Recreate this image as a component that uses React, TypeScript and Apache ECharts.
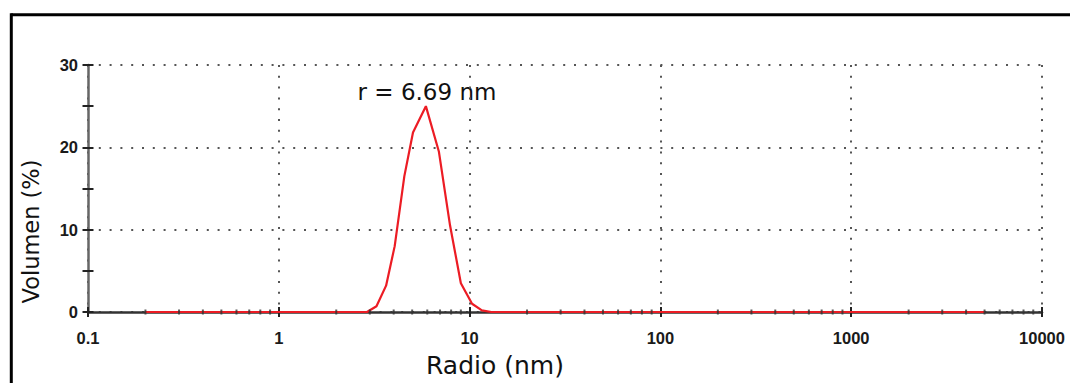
import React, { useEffect, useRef } from "react";
import * as echarts from "echarts";

// Radius (nm) of each point of the distribution curve and the volume (%) at it
const radius = [0.2, 2.9, 3.25, 3.65, 4.05, 4.55, 5.05, 5.9, 6.9, 7.9, 9.0, 10.3, 11.6, 13, 5000];
const volume = [0, 0, 0.7, 3.2, 8.0, 16.5, 21.8, 25, 19.5, 10.5, 3.5, 1.0, 0.2, 0, 0];

// tick labels
const xTickLabels = ["0.1", "1", "10", "100", "1000", "10000"];
const yTickLabels = ["0", "10", "20", "30"];

// minor tick positions of the logarithmic radius axis
const xMinorTicks = [
  0.2, 0.3, 0.4, 0.5, 0.6, 0.7, 0.8, 0.9,
  2, 3, 4, 5, 6, 7, 8, 9,
  20, 30, 40, 50, 60, 70, 80, 90,
  200, 300, 400, 500, 600, 700, 800, 900,
  2000, 3000, 4000, 5000, 6000, 7000, 8000, 9000,
];

const peakLabel = "r = 6.69 nm";
const xTitle = "Radio (nm)";
const yTitle = "Volumen (%)";

export default function App() {
  const ref = useRef<HTMLDivElement>(null);
  useEffect(() => {
    if (!ref.current) return;
    const chart = echarts.init(ref.current, undefined, { renderer: "svg" });
    const dotted = { color: "#555", width: 2, type: [2, 8.8] as any };
    const tickStyle = { color: "#222", width: 2 };
    const labelFont = {
      fontFamily: "'Liberation Sans', Arial, sans-serif",
      fontSize: 16.5,
      fontWeight: "bold" as const,
      color: "#1a1a1a",
    };
    const lineData = radius.map((r, i) => [r, volume[i]]);
    chart.setOption({
      animation: false,
      backgroundColor: "#ffffff",
      grid: { left: 88, right: 28, top: 65, bottom: 70.5, containLabel: false },
      xAxis: [
        {
          type: "log",
          logBase: 10,
          min: 0.1,
          max: 10000,
          splitNumber: 5,
          name: xTitle,
          nameLocation: "middle",
          nameGap: 41,
          nameTextStyle: {
            fontFamily: "'DejaVu Sans', sans-serif",
            fontSize: 25,
            color: "#111",
            padding: [0, 140, 0, 0],
          },
          axisLine: { show: true, onZero: false, lineStyle: { color: "#333", width: 2.5 } },
          axisTick: { show: true, inside: false, length: 5, lineStyle: tickStyle },
          axisLabel: {
            ...labelFont,
            margin: 17,
            formatter: (v: number) => xTickLabels[Math.round(Math.log10(v)) + 1] ?? "",
          },
          splitLine: { show: true, lineStyle: dotted },
        },
        {
          type: "log",
          logBase: 10,
          min: 0.1,
          max: 10000,
          splitNumber: 5,
          position: "bottom",
          axisLine: { show: false },
          axisTick: { show: true, inside: true, length: 5, lineStyle: tickStyle },
          axisLabel: { show: false },
          splitLine: { show: false },
        },
      ],
      yAxis: [
        {
          type: "value",
          min: 0,
          max: 30,
          interval: 10,
          name: yTitle,
          nameLocation: "middle",
          nameRotate: 90,
          nameGap: 46,
          nameTextStyle: {
            fontFamily: "'DejaVu Sans', sans-serif",
            fontSize: 22.5,
            color: "#111",
            padding: [0, 86, 0, 0],
          },
          axisLine: { show: true, lineStyle: { color: "#666", width: 2.5 } },
          axisTick: { show: true, inside: false, length: 5.5, lineStyle: tickStyle },
          minorTick: { show: true, splitNumber: 2, length: 5.5, lineStyle: tickStyle },
          axisLabel: {
            ...labelFont,
            margin: 10,
            formatter: (v: number) => yTickLabels[Math.round(v / 10)] ?? "",
          },
          splitLine: { show: true, lineStyle: dotted },
        },
        {
          type: "value",
          min: 0,
          max: 30,
          interval: 10,
          position: "left",
          axisLine: { show: false },
          axisTick: { show: true, inside: true, length: 5.5, lineStyle: tickStyle },
          minorTick: { show: true, splitNumber: 2, length: 5.5, lineStyle: tickStyle },
          axisLabel: { show: false },
          splitLine: { show: false },
        },
      ],
      series: [
        {
          type: "line",
          name: "Volumen",
          data: lineData,
          xAxisIndex: 0,
          yAxisIndex: 0,
          showSymbol: false,
          symbol: "none",
          lineStyle: { color: "#ec1c24", width: 2.2 },
          silent: true,
          z: 3,
        },
        {
          type: "scatter",
          name: "minor ticks",
          data: xMinorTicks.map((t) => [t, 0]),
          xAxisIndex: 0,
          yAxisIndex: 0,
          symbol: "rect",
          symbolSize: [2, 5],
          itemStyle: { color: "#333" },
          silent: true,
          z: 4,
        },
      ],
      graphic: [
        {
          type: "line",
          shape: { x1: 11.3, y1: 14.8, x2: 1070, y2: 14.8 },
          style: { stroke: "#000", lineWidth: 3 },
          silent: true,
        },
        {
          type: "line",
          shape: { x1: 11.3, y1: 13.3, x2: 11.3, y2: 383 },
          style: { stroke: "#000", lineWidth: 3 },
          silent: true,
        },
        {
          type: "text",
          x: 427,
          y: 92,
          style: {
            text: peakLabel,
            fontFamily: "'DejaVu Sans', sans-serif",
            fontSize: 23,
            fill: "#111",
            align: "center",
            verticalAlign: "middle",
          },
          silent: true,
        },
      ],
    });
    return () => chart.dispose();
  }, []);
  return (
    <div
      ref={ref}
      style={{ position: "absolute", left: 0, top: 0, width: 1070, height: 383 }}
    />
  );
}
